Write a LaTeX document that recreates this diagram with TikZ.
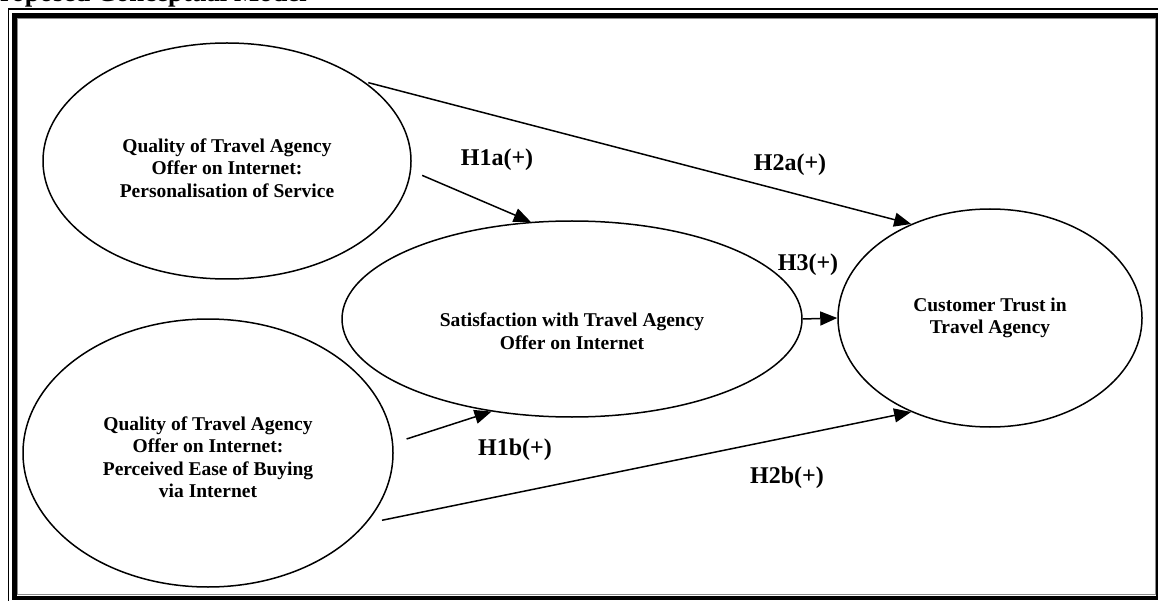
\documentclass[tikz,border=0pt]{standalone}
\usepackage{fontspec}
\setmainfont{Liberation Serif}
\usetikzlibrary{arrows.meta,shapes.geometric,positioning}

\begin{document}
\begin{tikzpicture}[
  x=1pt,y=-1pt,
  >={Triangle[length=17pt,width=14pt]},
  construct/.style={ellipse,draw,line width=1.5pt,inner sep=0pt},
  inner/.style={align=center,font=\fontsize{19.5}{22.5}\selectfont\bfseries},
  hyp/.style={font=\fontsize{24}{28}\selectfont\bfseries},
  link/.style={->,line width=1.5pt}]
  \useasboundingbox (0,0) rectangle (1158,601);
  % frame and the cut title above it
  \node[anchor=base west,inner sep=0pt,font=\fontsize{26.7}{30}\selectfont\bfseries] (title) at (-16.3,2) {Proposed Conceptual Model};
  \draw[line width=1.2pt] (8.7,9) rectangle (1170,612);
  \draw[line width=4.8pt] (14.7,15.5) rectangle (1158.8,598);
  \draw[line width=0.8pt,black!45] (17.8,18.6) rectangle (1155.5,594.8);
  % q1-personalisation q2-ease of buying s-satisfaction t-trust
  \node[construct,minimum width=368pt,minimum height=236pt] (q1) at (227,161) {};
  \node[construct,minimum width=370pt,minimum height=268pt] (q2) at (208,453) {};
  \node[construct,minimum width=460pt,minimum height=196pt] (s) at (572,319) {};
  \node[construct,minimum width=304pt,minimum height=218pt] (t) at (990,318) {};
  \node[inner] (q1text) at ([yshift=-7pt]q1) {Quality of Travel Agency\\Offer on Internet:\\Personalisation of Service};
  \node[inner] (q2text) at ([yshift=-4pt]q2) {Quality of Travel Agency\\Offer on Internet:\\Perceived Ease of Buying\\via Internet};
  \node[inner] (stext) at ([yshift=-12pt]s) {Satisfaction with Travel Agency\\Offer on Internet};
  \node[inner] (ttext) at (t) {Customer Trust in\\Travel Agency};
  % hypotheses
  \draw[link,shorten <=4pt] (q1.30) -- (t.130);
  \draw[link,shorten <=12pt] (q1.-3) -- (s.113);
  \draw[link,shorten <=14pt] (q2.3) -- (s.-131);
  \draw[link,shorten <=16pt] (q2.-24) -- (t.230);
  \draw[link] (s.east) -- (t.west);
  \node[hyp] (h2a) at (790,165) {H2a(+)};
  \node[hyp] (h1a) at (497,160) {H1a(+)};
  \node[hyp] (h3) at (808,265) {H3(+)};
  \node[hyp] (h1b) at (515,450) {H1b(+)};
  \node[hyp] (h2b) at (787,478) {H2b(+)};
\end{tikzpicture}
\end{document}
